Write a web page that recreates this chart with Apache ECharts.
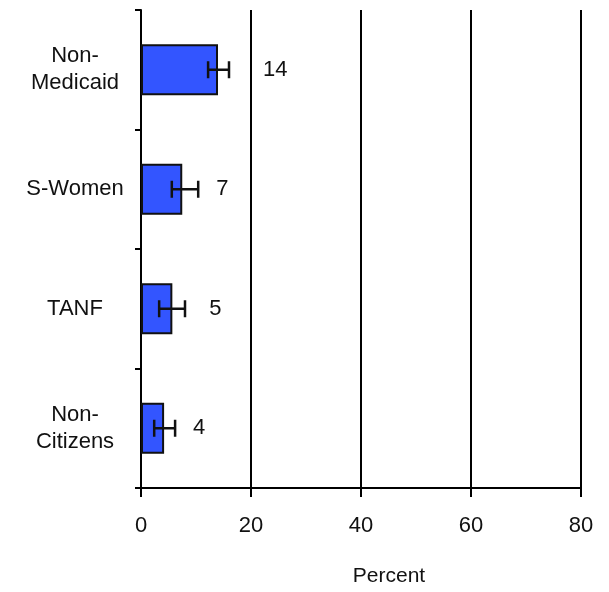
<!DOCTYPE html>
<html>
<head>
<meta charset="utf-8">
<script src="https://cdn.jsdelivr.net/npm/echarts@6/dist/echarts.min.js"></script>
<style>html,body{margin:0;padding:0;background:#fff;overflow:hidden;}#c{width:609px;height:592px;}</style>
</head>
<body>
<div id="c"></div>
<script>
const categories = ['Non-\nMedicaid', 'S-Women', 'TANF', 'Non-\nCitizens'];
const values = [14.0, 7.5, 5.7, 4.2];
const errLow = [12.2, 5.6, 3.3, 2.4];
const errHigh = [16.0, 10.4, 8.0, 6.2];
const valueLabels = ['14', '7', '5', '4'];
const xTicks = [0, 20, 40, 60, 80];

const labelGaps = [45, 34, 37, 29];
const chart = echarts.init(document.getElementById('c'), null, {width: 609, height: 592});
const font = 'Liberation Sans, Arial, sans-serif';
chart.setOption({
  animation: false,
  grid: {left: 141, width: 440, top: 10, height: 484, containLabel: false},
  xAxis: {
    type: 'value', min: xTicks[0], max: xTicks[xTicks.length - 1], interval: 20,
    axisLine: {show: true, lineStyle: {color: '#000', width: 2}},
    axisTick: {show: true, length: 9, lineStyle: {color: '#000', width: 2}},
    axisLabel: {color: '#111', fontSize: 22, fontFamily: font, margin: 27},
    splitLine: {show: true, lineStyle: {color: '#000', width: 2}},
    name: 'Percent', nameLocation: 'middle', nameGap: 78,
    nameTextStyle: {color: '#111', fontSize: 21, fontFamily: font, padding: [0, 0, 0, 56]}
  },
  yAxis: {
    type: 'category', data: categories, inverse: true,
    axisLine: {show: true, lineStyle: {color: '#000', width: 2}},
    axisTick: {show: true, length: 6, lineStyle: {color: '#000', width: 2}},
    axisLabel: {color: '#111', fontSize: 22, fontFamily: font, align: 'center', margin: 66, lineHeight: 27},
    splitLine: {show: false}
  },
  series: [
    {
      type: 'bar', barWidth: 51,
      itemStyle: {color: '#3355ff', borderColor: '#111', borderWidth: 2},
      data: values.map((v, i) => ({
        value: v,
        label: {show: true, position: 'right', distance: labelGaps[i], formatter: valueLabels[i],
                color: '#111', fontSize: 22, fontFamily: font}
      })),
      z: 3
    },
    {
      type: 'custom',
      data: errLow.map((l, i) => [i, l, errHigh[i]]),
      renderItem: function (params, api) {
        const idx = api.value(0);
        const lo = api.coord([api.value(1), idx]);
        const hi = api.coord([api.value(2), idx]);
        const y = lo[1];
        const h = 8.5;
        const style = {stroke: '#111', lineWidth: 2.5};
        return {type: 'group', children: [
          {type: 'line', shape: {x1: lo[0], y1: y, x2: hi[0], y2: y}, style: style},
          {type: 'line', shape: {x1: lo[0], y1: y - h, x2: lo[0], y2: y + h}, style: style},
          {type: 'line', shape: {x1: hi[0], y1: y - h, x2: hi[0], y2: y + h}, style: style}
        ]};
      },
      encode: {x: [1, 2], y: 0},
      z: 5
    }
  ]
});
</script>
</body>
</html>
